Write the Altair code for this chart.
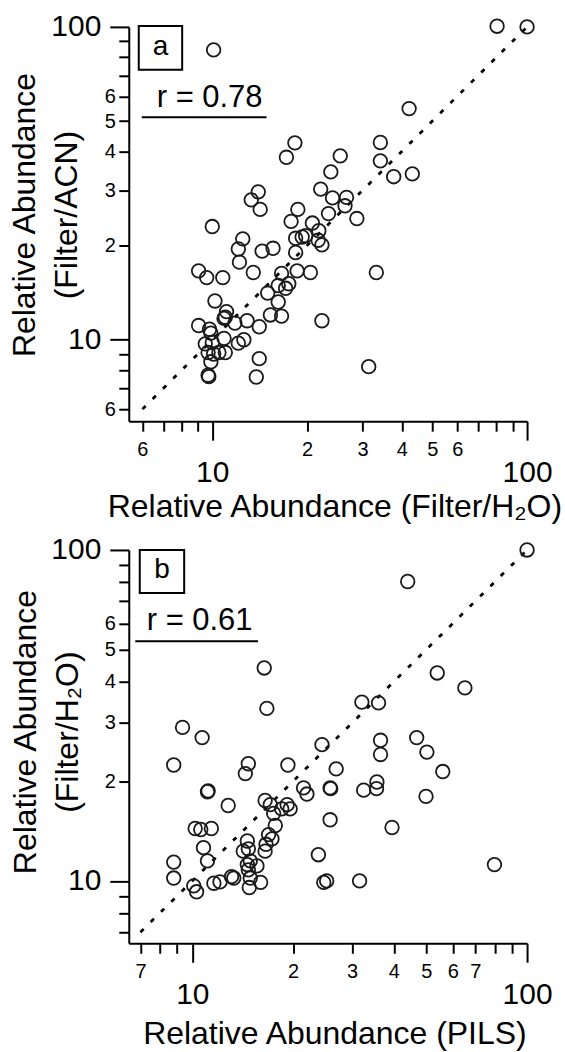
import altair as alt
import pandas as pd

FONT = "Liberation Sans, Arial, Helvetica, sans-serif"

# ---------------- data: panel a (Filter/H2O vs Filter/ACN) ----------------
xa = [80.3, 100, 10.1, 42.2, 18.3, 17.2, 25.5, 34.2, 34.2, 37.7, 43.2, 23.8, 22.1, 14.0, 13.3,
      14.2, 24.1, 26.7, 26.4, 28.8, 18.7, 23.4, 20.8, 10.0, 17.8, 21.8, 18.4, 19.3, 21.7, 22.3,
      12.5, 12.1, 14.4, 15.6, 18.4, 19.8, 12.2, 9.05, 9.6, 10.8, 13.5, 16.6, 18.6, 20.5, 17.5,
      16.2, 17.1, 15.0, 16.2, 10.2, 11.1, 11.0, 10.9, 12.9, 11.8, 15.3, 16.6, 14.1, 22.3, 9.05,
      9.8, 9.9, 10.9, 12.1, 12.6, 9.5, 10.0, 9.7, 10.1, 10.5, 11.0, 9.9, 9.7, 9.75, 14.1,
      13.8, 31.4, 33.2]
ya = [100.5, 100, 84.4, 54.8, 42.6, 38.3, 38.7, 42.7, 37.3, 33.2, 33.9, 34.4, 30.3, 29.7, 28.0,
      26.1, 28.4, 28.5, 26.8, 24.4, 26.1, 25.3, 23.6, 23.0, 23.9, 22.3, 21.1, 21.3, 20.8, 20.1,
      21.0, 19.5, 19.2, 19.6, 19.0, 21.5, 17.7, 16.6, 15.8, 15.8, 16.4, 16.3, 16.6, 16.4, 15.1,
      14.9, 14.6, 14.1, 13.2, 13.3, 12.3, 11.8, 11.7, 11.5, 11.3, 12.0, 11.9, 11.0, 11.5, 11.1,
      10.8, 10.5, 10.1, 9.75, 10.0, 9.7, 9.8, 9.1, 9.0, 9.1, 9.1, 8.5, 7.7, 7.62, 8.7,
      7.6, 8.2, 16.4]

# ---------------- data: panel b (PILS vs Filter/H2O) ----------------
xb = [100, 44.0, 16.4, 16.7, 53.9, 65.2, 32.1, 36.0, 9.35, 10.7, 36.5, 36.5, 46.8, 50.2, 24.4,
      8.8, 14.7, 14.4, 19.3, 26.9, 56.0, 35.6, 21.5, 22.0, 25.8, 25.9, 32.5, 35.5, 49.9, 11.1,
      11.15, 12.8, 16.5, 17.1, 19.2, 18.5, 19.6, 17.5, 17.7, 16.9, 17.3, 16.5, 16.6, 14.6, 14.2,
      14.7, 14.9, 14.6, 15.6, 14.7, 14.9, 14.8, 16.0, 10.2, 10.6, 11.4, 10.8, 11.1, 8.8, 8.8,
      10.1, 10.3, 11.6, 12.1, 13.1, 13.3, 23.8, 24.7, 25.2, 25.8, 31.6, 39.5, 79.9]
yb = [100, 80.3, 44.0, 33.2, 42.5, 38.3, 34.7, 34.5, 29.1, 27.1, 26.6, 24.1, 27.1, 24.5, 25.8,
      22.4, 22.6, 21.1, 22.4, 21.8, 21.4, 19.9, 19.1, 18.3, 19.1, 19.0, 18.8, 19.0, 18.0, 18.6,
      18.7, 16.9, 17.5, 17.0, 17.0, 16.5, 16.5, 16.0, 14.7, 13.8, 13.4, 12.3, 12.9, 13.2, 12.3,
      12.5, 11.5, 11.2, 11.1, 10.8, 10.2, 9.55, 9.9, 14.4, 14.3, 14.4, 12.6, 11.5, 11.4, 10.2,
      9.66, 9.27, 9.84, 9.93, 10.3, 10.2, 12.0, 9.9, 10.0, 15.3, 10.0, 14.5, 11.2]

# 1:1 reference lines
diag_a = [6, 100]
diag_b = [7, 100]

# axis ticks and labels
ticks_a = [6, 7, 8, 9, 10, 20, 30, 40, 50, 60, 70, 80, 90, 100]
xlabels_a = ["6", "", "", "", "10", "2", "3", "4", "5", "6", "", "", "", "100"]
ylabels_a = ["6", "", "", "", "10", "2", "3", "4", "5", "6", "", "", "", "100"]
ticks_b = [7, 8, 9, 10, 20, 30, 40, 50, 60, 70, 80, 90, 100]
xlabels_b = ["7", "", "", "10", "2", "3", "4", "5", "6", "7", "", "", "100"]
ylabels_b = ["", "", "", "10", "2", "3", "4", "5", "6", "", "", "", "100"]

domain_a_x = [5.43, 100]
domain_a_y = [5.49, 100]
domain_b_x = [6.46, 100]
domain_b_y = [6.48, 100]

xtitle_a = "Relative Abundance (Filter/H\u2082O)"
ytitle_a = ["Relative Abundance", "(Filter/ACN)"]
xtitle_b = "Relative Abundance (PILS)"
ytitle_b = ["Relative Abundance", "(Filter/H\u2082O)"]

panel_letters = ["a", "b"]
r_labels = ["r = 0.78", "r = 0.61"]

MAJOR = "datum.value == 10 || datum.value == 100"


def label_expr(ticks, labels):
    expr = "''"
    for t, l in reversed(list(zip(ticks, labels))):
        if l:
            expr = f"datum.value == {t} ? '{l}' : ({expr})"
    return expr


def cond(major, minor):
    return {"condition": {"test": MAJOR, "value": major}, "value": minor}


def common_axis(ticks, labels, title):
    return dict(
        values=ticks, labelExpr=label_expr(ticks, labels), grid=False,
        labelOverlap=False, labelFlush=False, domainColor="black", domainWidth=2,
        tickColor="black", tickWidth=2, labelColor="black", labelFont=FONT,
        titleFont=FONT, titleFontSize=32, titleFontWeight="normal", titleColor="black",
        title=title, zindex=1, tickSize=cond(19, 10), labelFontSize=cond(30, 20),
    )


def x_axis(ticks, labels, title, title_y):
    return alt.Axis(**common_axis(ticks, labels, title), labelPadding=cond(17, 8),
                    titleX=206, titleY=title_y, titleAngle=0, titleAlign="center",
                    titleBaseline="alphabetic")


def y_axis(ticks, labels, title, title_x, title_y):
    return alt.Axis(**common_axis(ticks, labels, title), labelPadding=cond(9, 3.5),
                    titleX=title_x, titleY=title_y, titleAngle=270, titleAlign="center",
                    titleBaseline="alphabetic", titleLineHeight=42)


def panel(xs, ys, diag, dx, dy, xax, yax, letter, rlab, box, rpos, line, frame, w, h):
    df = pd.DataFrame({"x": xs, "y": ys})
    xs_ = alt.Scale(type="log", domain=dx, nice=False)
    ys_ = alt.Scale(type="log", domain=dy, nice=False)
    pts = alt.Chart(df).mark_point(shape="circle", filled=False, size=185, strokeWidth=1.8,
                                   color="#1a1a1a", opacity=1).encode(
        x=alt.X("x:Q", scale=xs_, axis=xax),
        y=alt.Y("y:Q", scale=ys_, axis=yax),
    )
    ddf = pd.DataFrame({"x": diag, "y": diag})
    dl = alt.Chart(ddf).mark_line(color="black", strokeWidth=2.8, strokeDash=[4.5, 10]).encode(
        x=alt.X("x:Q", scale=xs_), y=alt.Y("y:Q", scale=ys_))
    one = pd.DataFrame({"t": [letter], "r": [rlab]})
    fr = alt.Chart(one).mark_rect(opacity=0).encode(
        x=alt.value(frame[0]), x2=alt.value(frame[1]), y=alt.value(frame[2]), y2=alt.value(frame[3]))
    bx = alt.Chart(one).mark_rect(fillOpacity=0, stroke="black", strokeWidth=2).encode(
        x=alt.value(box[0]), x2=alt.value(box[1]), y=alt.value(box[2]), y2=alt.value(box[3]))
    lt = alt.Chart(one).mark_text(font=FONT, fontSize=28, color="black", align="center",
                                  baseline="middle").encode(
        text="t:N", x=alt.value((box[0] + box[1]) / 2), y=alt.value((box[2] + box[3]) / 2 - 1))
    rt = alt.Chart(one).mark_text(font=FONT, fontSize=31, color="black", align="center",
                                  baseline="middle").encode(
        text="r:N", x=alt.value(rpos[0]), y=alt.value(rpos[1]))
    ul = alt.Chart(one).mark_rule(color="black", strokeWidth=2).encode(
        x=alt.value(line[0]), x2=alt.value(line[1]), y=alt.value(line[2]))
    return alt.layer(fr, dl, pts, bx, lt, rt, ul).properties(width=w, height=h)


chart_a = panel(
    xa, ya, diag_a, domain_a_x, domain_a_y,
    x_axis(ticks_a, xlabels_a, xtitle_a, 95),
    y_axis(ticks_a, ylabels_a, ytitle_a, -94, 188),
    panel_letters[0], r_labels[0],
    box=(10, 53.5, -1, 43), rpos=(81, 71), line=(13, 138, 90.5),
    frame=(-128.3, 436.7, -26, 10), w=399, h=395)

chart_b = panel(
    xb, yb, diag_b, domain_b_x, domain_b_y,
    x_axis(ticks_b, xlabels_b, xtitle_b, 100),
    y_axis(ticks_b, ylabels_b, ytitle_b, -93, 182),
    panel_letters[1], r_labels[1],
    box=(11, 55.5, 0, 43), rpos=(71, 71), line=(6.5, 129.5, 91.5),
    frame=(-128.3, 436.7, 0, 502), w=399, h=394)

chart = alt.vconcat(chart_a, chart_b, spacing=129, bounds="flush").properties(
    padding=0, background="white"
).configure_view(stroke=None)

chart.save("out.html", embed_options={"renderer": "svg", "actions": False})
